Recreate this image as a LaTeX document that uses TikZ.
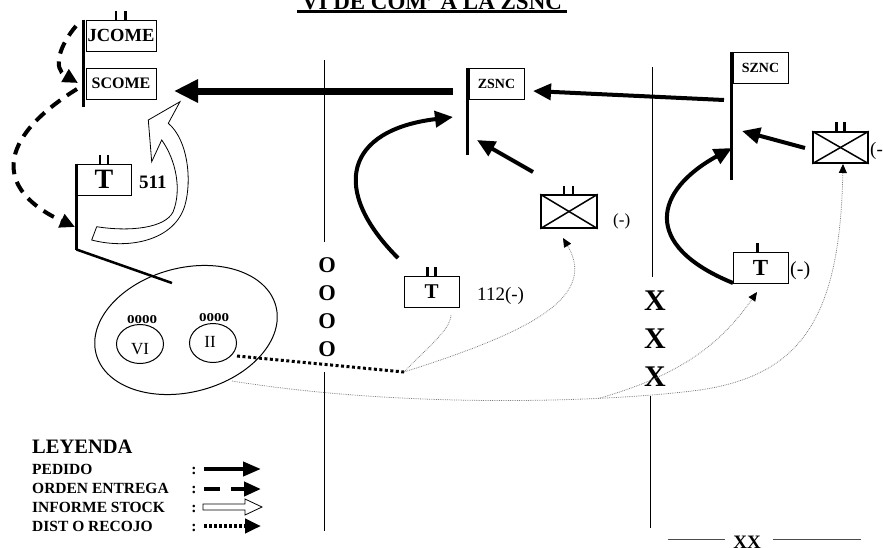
\documentclass[tikz,border=0pt]{standalone}
\usepackage{fontspec}
\setmainfont{Liberation Serif}
\usetikzlibrary{arrows.meta,shapes.geometric}
\newcommand\fsz[1]{\fontsize{#1}{#1}\selectfont}
\begin{document}
\begin{tikzpicture}[x=1pt,y=-1pt,
  unitbox/.style={draw,line width=1pt,inner sep=0pt,rectangle,minimum width=55pt,minimum height=31pt,font=\bfseries},
  staff/.style={line width=3pt},
  tickmark/.style={line width=2.2pt},
  bound/.style={line width=1pt},
  pedido/.style={line width=4pt,-{Triangle[length=18pt,width=16pt]}},
  pedidobig/.style={line width=7pt,-{Triangle[length=24pt,width=22pt]}},
  orden/.style={line width=4pt,dash pattern=on 12pt off 8pt,-{Triangle[length=15pt,width=14pt]}},
  distthick/.style={line width=3pt,dash pattern=on 3pt off 2.5pt},
  distthin/.style={line width=0.8pt,densely dotted,draw=black!50},
  thintip/.style={-{Triangle[length=9pt,width=8pt,black]}},
  xlabel/.style={font=\bfseries\fsz{30}},
  olabel/.style={font=\bfseries\fsz{22.5}},
  legtext/.style={anchor=base west,inner sep=0pt,font=\bfseries\fsz{15.5}},
  colon/.style={anchor=base,font=\bfseries\fsz{15.5}}
]
\clip (0,0) rectangle (883,547);

% title
\node[anchor=base,font=\bfseries\fsz{23}] (title) at (432,9) {VI DE COM' A LA ZSNC};
\draw[line width=2.5pt] (297,11.5) -- (567,11.5);

% boundaries
\draw[bound] (324,60) -- (324,242);
\draw[bound] (324,372) -- (324,531);
\node[olabel] (o1) at (327,265) {O};
\node[olabel] (o2) at (327,293) {O};
\node[olabel] (o3) at (327,321) {O};
\node[olabel] (o4) at (327,349) {O};
\draw[bound] (652,67) -- (652,277);
\draw[bound] (650,396) -- (650,528);
\node[xlabel] (x1) at (655,301) {X};
\node[xlabel] (x2) at (655,339) {X};
\node[xlabel] (x3) at (655,377) {X};
\node[font=\bfseries\fsz{19}] (xx) at (747,542) {XX};
\draw[line width=1pt,black!70] (668,539) -- (725,539);
\draw[line width=1pt,black!70] (773,539) -- (861,539);

% left units
\node[unitbox,minimum width=70pt,font=\bfseries\fsz{18.5}] (jcome) at (121,35.5) {JCOME};
\node[unitbox,minimum width=70pt,font=\bfseries\fsz{16}] (scome) at (121,83.5) {SCOME};
\draw[staff] ([xshift=-2pt]jcome.north west) -- ++(0,87);
\draw[tickmark] ([xshift=-5pt]jcome.north) -- ++(0,-9);
\draw[tickmark] ([xshift=4.5pt]jcome.north) -- ++(0,-9);

\node[unitbox,minimum width=54pt,font=\bfseries\fsz{28}] (t511) at (104,179.5) {T};
\node[anchor=west,inner sep=0pt,font=\bfseries\fsz{19}] (l511) at (139,182) {511};
\draw[tickmark] ([xshift=-4pt]t511.north) -- ++(0,-9);
\draw[tickmark] ([xshift=4pt]t511.north) -- ++(0,-9);
\draw[staff] (t511.north west) -- ++(0,86) coordinate (t5foot);
\draw[line width=2.5pt] (t5foot) -- (172,283);

% ellipse and sub units
\node[draw,ellipse,line width=1pt,minimum width=186pt,minimum height=124pt,inner sep=0pt,rotate=15] (bige) at (186,330) {};
\node[draw,ellipse,line width=1pt,minimum width=47pt,minimum height=39pt,inner sep=0pt] (vi) at (140,344) {};
\node[font=\fsz{17}] (vit) at (140,349) {VI};
\node[draw,ellipse,line width=1pt,minimum width=47pt,minimum height=39pt,inner sep=0pt] (ii) at (213,343) {};
\node[font=\fsz{17}] (iit) at (210,342) {II};
\node[font=\bfseries\fsz{15}] (z1) at (142,320) {\scalebox{1}[0.8]{0000}};
\node[font=\bfseries\fsz{15}] (z2) at (214,318) {\scalebox{1}[0.8]{0000}};

% center units
\node[unitbox,font=\bfseries\fsz{14}] (zsnc) at (496.5,83.5) {ZSNC};
\draw[staff] ([xshift=-1pt]zsnc.north west) -- ++(0,87);
\node[unitbox,minimum width=56pt,minimum height=33pt,line width=1.5pt] (xmid) at (569,211.5) {};
\draw[line width=1.5pt] (xmid.north west) -- (xmid.south east);
\draw[line width=1.5pt] (xmid.south west) -- (xmid.north east);
\draw[tickmark] ([xshift=-5pt]xmid.north) -- ++(0,-8);
\draw[tickmark] ([xshift=4pt]xmid.north) -- ++(0,-8);
\node[anchor=west,inner sep=0pt,font=\fsz{17}] (lxmid) at (613,221) {(-)};
\node[unitbox,font=\bfseries\fsz{21}] (t112) at (431.5,291.5) {T};
\draw[tickmark] ([xshift=-4pt]t112.north) -- ++(0,-9);
\draw[tickmark] ([xshift=4pt]t112.north) -- ++(0,-9);
\node[anchor=west,inner sep=0pt,font=\fsz{19}] (l112) at (477,296) {112(-)};

% right units
\node[unitbox,font=\bfseries\fsz{14}] (sznc) at (760.5,67.5) {SZNC};
\draw[staff] ([xshift=-1pt]sznc.north west) -- ++(0,128);
\node[unitbox,line width=1.5pt] (xright) at (840.5,147.5) {};
\draw[line width=1.5pt] (xright.north west) -- (xright.south east);
\draw[line width=1.5pt] (xright.south west) -- (xright.north east);
\draw[tickmark] ([xshift=-4pt]xright.north) -- ++(0,-9);
\draw[tickmark] ([xshift=4pt]xright.north) -- ++(0,-9);
\node[anchor=west,inner sep=0pt,font=\fsz{19}] (lxright) at (870,151) {(-)};
\node[unitbox,font=\bfseries\fsz{23}] (tright) at (760.5,267.5) {T};
\draw[tickmark] ([xshift=-3pt]tright.north) -- ++(0,-9);
\node[anchor=west,inner sep=0pt,font=\fsz{20}] (ltright) at (790,271) {(-)};

% connector end points
\coordinate (jcout) at (76,26);
\coordinate (scin) at (78,83);
\coordinate (scout) at (77,89);
\coordinate (t5in) at (75,227);
\coordinate (zsped) at (453,91);
\coordinate (scped) at (174,91);
\coordinate (szped) at (724,100);
\coordinate (zsin) at (533,91);
\coordinate (xrout) at (805,148);
\coordinate (szin1) at (742,131);
\coordinate (trout) at (733,283);
\coordinate (szin2) at (732,148);
\coordinate (t1out) at (398,258);
\coordinate (zsin2) at (453,117);
\coordinate (xmout) at (533,172);
\coordinate (zsin3) at (477,140);
\coordinate (iiout) at (237,356);
\coordinate (hub) at (404,372);
\coordinate (t1in) at (451,315);
\coordinate (xmin) at (563,238);
\coordinate (eout) at (232,381);
\coordinate (mid) at (700,390);
\coordinate (branch) at (600,398);
\coordinate (xrin) at (843,164);
\coordinate (trin) at (757,292);

% orden entrega
\draw[orden] (jcout) .. controls (60,45) and (52,68) .. (scin);
\draw[orden] (scout) .. controls (-5,140) and (-5,190) .. (t5in);

% pedido
\draw[pedidobig] (zsped) -- (scped);
\draw[pedido] (szped) -- (zsin);
\draw[pedido] (xrout) -- (szin1);
\draw[pedido] (trout) .. controls (640,245) and (655,190) .. (szin2);
\draw[pedido] (t1out) .. controls (330,190) and (345,130) .. (zsin2);
\draw[pedido] (xmout) -- (zsin3);

% informe stock
\filldraw[fill=white,line width=0.8pt] (180,101.7) -- (148.3,120) -- (151.7,161.7) -- (161.7,140)
  .. controls (176,160) and (182,190) .. (173,212)
  .. controls (165,228) and (130,232) .. (96.7,226.7) -- (91.7,240)
  .. controls (130,250) and (175,240) .. (185,205)
  .. controls (192,180) and (188,140) .. (168.3,123.3) -- cycle;

% dist o recojo
\draw[distthick] (iiout) -- (hub);
\draw[distthin] (hub) .. controls (430,345) and (450,330) .. (t1in);
\draw[distthin,thintip] (hub) .. controls (520,335) and (600,300) .. (xmin);
\draw[distthin] (eout) .. controls (400,408) and (600,403) .. (mid);
\draw[distthin,thintip] (mid) .. controls (800,375) and (840,320) .. (xrin);
\draw[distthin,thintip] (branch) .. controls (680,375) and (720,345) .. (trin);

% legend
\node[anchor=base west,inner sep=0pt,font=\bfseries\fsz{20.5}] (ley) at (32,453) {LEYENDA};
\node[legtext] (lp) at (32,474) {PEDIDO};
\node[legtext] (lo) at (32,493) {ORDEN ENTREGA};
\node[legtext] (li) at (32,512) {INFORME STOCK};
\node[legtext] (ld) at (32,531) {DIST O RECOJO};
\node[colon] (c1) at (194,474) {:};
\node[colon] (c2) at (194,493) {:};
\node[colon] (c3) at (194,512) {:};
\node[colon] (c4) at (194,531) {:};
\coordinate (a1s) at (204,469); \coordinate (a1e) at (261,469);
\coordinate (a2s) at (204,489); \coordinate (a2e) at (261,489);
\coordinate (a4s) at (204,526); \coordinate (a4e) at (261,526);
\draw[line width=4pt,-{Triangle[length=18pt,width=14pt]}] (a1s) -- (a1e);
\draw[line width=4pt,dash pattern=on 16pt off 11pt,-{Triangle[length=17pt,width=14pt]}] (a2s) -- (a2e);
\filldraw[fill=white,line width=0.8pt] (203,504) -- (245,504) -- (245,499) -- (262,507) -- (245,515) -- (245,510) -- (203,510) -- cycle;
\draw[line width=4pt,dash pattern=on 3pt off 2pt,-{Triangle[length=16pt,width=14pt]}] (a4s) -- (a4e);
\end{tikzpicture}
\end{document}
